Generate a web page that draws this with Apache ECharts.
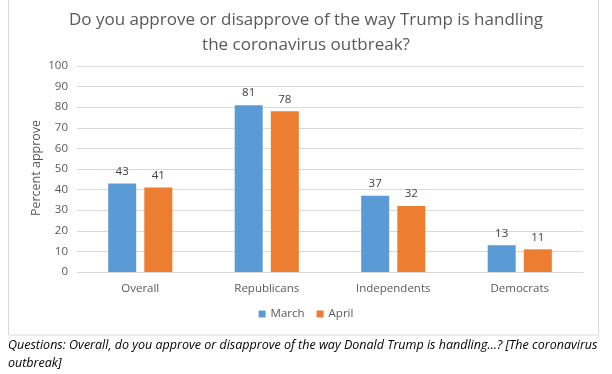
<!DOCTYPE html>
<html><head><meta charset="utf-8">
<script src="https://cdn.jsdelivr.net/npm/echarts@6/dist/echarts.min.js"></script>
<style>html,body{margin:0;padding:0;background:#fff}#c{width:612px;height:374px}</style>
</head><body><div id="c"></div>
<script>
const categories = ['Overall', 'Republicans', 'Independents', 'Democrats'];
const march = [43, 81, 37, 13];
const april = [41, 78, 32, 11];
const yTicks = {min: 0, max: 100, interval: 10};
const seriesNames = ['March', 'April'];
const yAxisTitle = 'Percent approve';

const chart = echarts.init(document.getElementById('c'), null, {renderer: 'canvas'});
const font = '"Open Sans", "Liberation Sans", sans-serif';
chart.setOption({
  animation: false,
  backgroundColor: '#fff',
  title: {
    text: 'Do you approve or disapprove of the way Trump is handling\nthe coronavirus outbreak?',
    left: 'center', top: 3,
    textStyle: {fontFamily: font, fontSize: 17, fontWeight: 'normal', color: '#595959', lineHeight: 25}
  },
  legend: {
    data: seriesNames, bottom: 49, left: 'center', itemWidth: 7, itemHeight: 7, itemGap: 12,
    icon: 'rect', textStyle: {fontFamily: font, fontSize: 11.5, color: '#595959'}
  },
  grid: {left: 77, right: 29, top: 66, bottom: 102},
  xAxis: {
    type: 'category', data: categories,
    axisLine: {lineStyle: {color: '#D9D9D9'}}, axisTick: {show: false},
    axisLabel: {fontFamily: font, fontSize: 11.5, color: '#595959', margin: 11}
  },
  yAxis: {
    type: 'value', min: yTicks.min, max: yTicks.max, interval: yTicks.interval,
    axisLine: {show: false}, axisTick: {show: false},
    axisLabel: {fontFamily: font, fontSize: 11.5, color: '#595959', margin: 9},
    splitLine: {lineStyle: {color: '#D9D9D9'}}
  },
  series: [
    {name: seriesNames[0], type: 'bar', data: march, barWidth: 28, barGap: '29%',
     itemStyle: {color: '#5B9BD5'},
     label: {show: true, position: 'top', distance: 6, fontFamily: font, fontSize: 11.5, color: '#404040'}},
    {name: seriesNames[1], type: 'bar', data: april, barWidth: 28,
     itemStyle: {color: '#ED7D31'},
     label: {show: true, position: 'top', distance: 6, fontFamily: font, fontSize: 11.5, color: '#404040'}}
  ],
  graphic: [
    {type: 'rect', shape: {x: 8.5, y: -1, width: 590, height: 336}, silent: true, z: -1,
     style: {fill: 'none', stroke: '#D9D9D9', lineWidth: 1}},
    {type: 'text', x: 36, y: 168, rotation: Math.PI / 2, silent: true,
     style: {text: yAxisTitle, font: '12.5px "Open Sans", sans-serif', fill: '#595959',
       align: 'center', verticalAlign: 'middle'}},
    {type: 'text', left: 8, top: 336,
     style: {text: 'Questions: Overall, do you approve or disapprove of the way Donald Trump is handling…? [The coronavirus\noutbreak]',
       font: 'italic 12.5px "Open Sans", sans-serif', fill: '#000', lineHeight: 18}}
  ]
});
</script></body></html>
